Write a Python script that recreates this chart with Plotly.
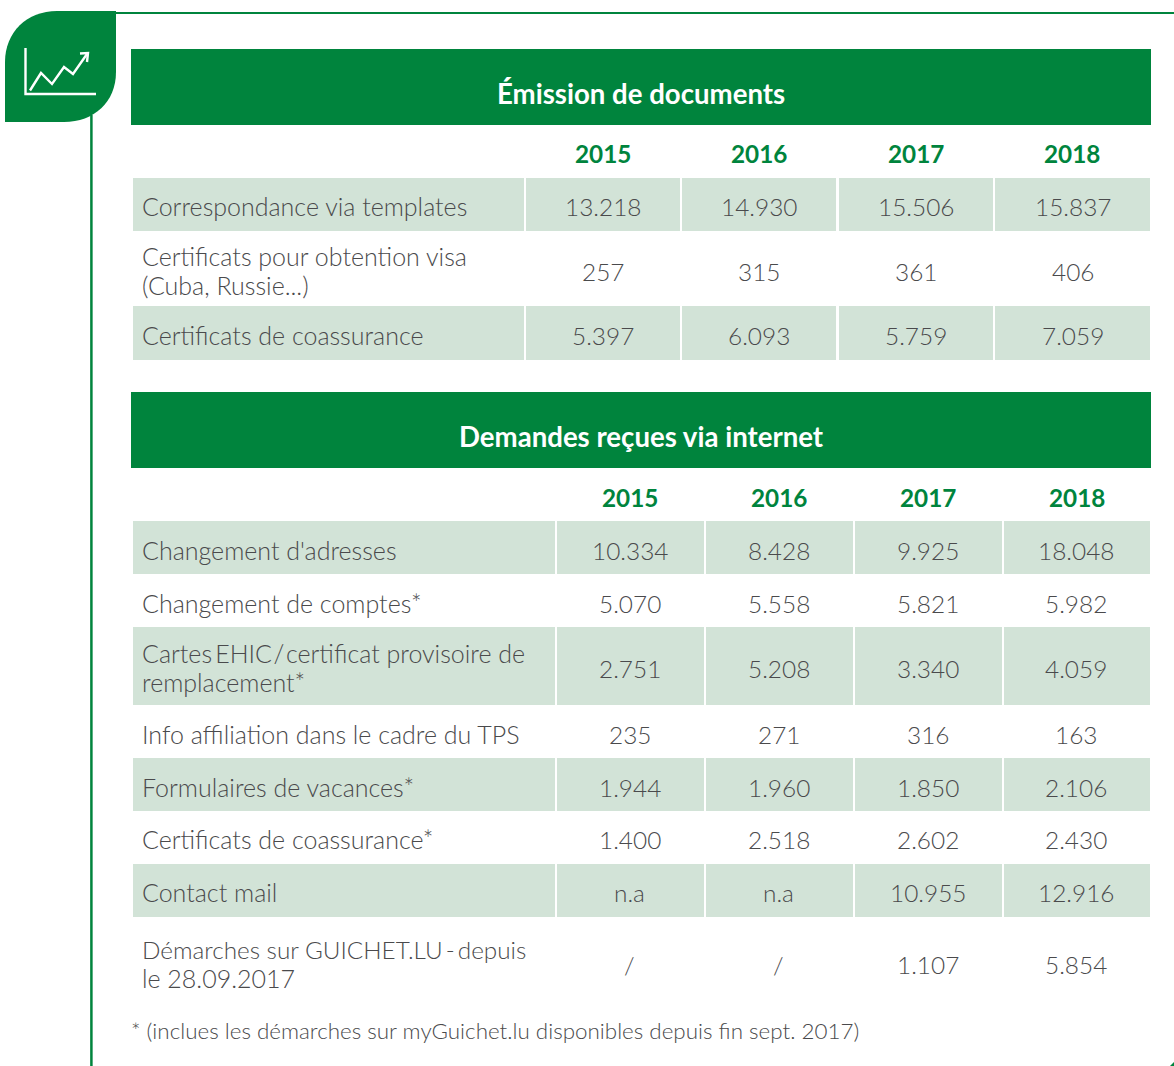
import plotly.graph_objects as go

# ---- data ----
years = ["2015", "2016", "2017", "2018"]

title_docs = "Émission de documents"
labels_docs = ["Correspondance via templates",
               "Certificats pour obtention visa<br>(Cuba, Russie...)",
               "Certificats de coassurance"]
values_docs = [["13.218", "14.930", "15.506", "15.837"],
               ["257", "315", "361", "406"],
               ["5.397", "6.093", "5.759", "7.059"]]

title_web = "Demandes reçues via internet"
labels_web = ["Changement d'adresses",
              "Changement de comptes*",
              "Cartes\u2009EHIC\u200a/\u200acertificat provisoire de<br>remplacement*",
              "Info affiliation dans le cadre du TPS",
              "Formulaires de vacances*",
              "Certificats de coassurance*",
              "Contact mail",
              "Démarches sur GUICHET.LU\u2009-\u2009depuis<br>le 28.09.2017"]
values_web = [["10.334", "8.428", "9.925", "18.048"],
              ["5.070", "5.558", "5.821", "5.982"],
              ["2.751", "5.208", "3.340", "4.059"],
              ["235", "271", "316", "163"],
              ["1.944", "1.960", "1.850", "2.106"],
              ["1.400", "2.518", "2.602", "2.430"],
              ["n.a", "n.a", "10.955", "12.916"],
              ["/", "/", "1.107", "5.854"]]

footnote = "* (inclues les démarches sur myGuichet.lu disponibles depuis fin sept. 2017)"

# ---- style ----
GREEN = "#00843d"
BAND = "#d2e3d7"
GREY = "#4a4a4c"
FONT = "Lato"
W, H = 1174, 1066
LINE_GAP = 14.5

shapes, ann = [], []


def rect(x0, y0, x1, y1, color):
    shapes.append(dict(type="rect", x0=x0, y0=y0, x1=x1, y1=y1,
                       fillcolor=color, line_width=0, layer="below"))


def text(x, y, s, size=24.0, color=GREY, anchor="center", bold=False):
    font = dict(family=FONT, size=size, color=color)
    if not bold:
        font["weight"] = 300
    ann.append(dict(x=x, y=y, text=f"<b>{s}</b>" if bold else s, showarrow=False,
                    xanchor=anchor, yanchor="middle", align="left",
                    borderpad=0, borderwidth=0, font=font))


def table(title, title_box, year_y, cols, rows, centers, labels, values, val_shift):
    x0, y0, x1, y1 = title_box
    rect(x0, y0, x1, y1, GREEN)
    text((x0 + x1) / 2, (y0 + y1) / 2 + 6, title, size=27.6, color="#ffffff", bold=True)
    col_mid = [(c0 + c1) / 2 - 0.5 for c0, c1 in cols[1:]]
    for xm, yr in zip(col_mid, years):
        text(xm, year_y, yr, size=24.3, color=GREEN, bold=True)
    for r, (lab, vals) in enumerate(zip(labels, values)):
        if rows[r][2]:
            for c0, c1 in cols:
                rect(c0, rows[r][0], c1, rows[r][1], BAND)
        mid = centers[r]
        parts = lab.split("<br>")
        if len(parts) == 2:
            first_size = 24.3 if "GUICHET" in parts[0] else 25
            text(142, mid - LINE_GAP - 1.5, parts[0], size=first_size, anchor="left")
            text(142, mid + LINE_GAP - 1.5, parts[1], size=25, anchor="left")
        else:
            text(142, mid - 1, lab, size=25, anchor="left")
        for xm, v in zip(col_mid, vals):
            text(xm + val_shift, mid - 0.5, v, size=24.4)


# frame and leaf
shapes.append(dict(type="line", x0=110, y0=13, x1=W, y1=13, line=dict(color=GREEN, width=2)))
shapes.append(dict(type="line", x0=91.4, y0=115, x1=91.4, y1=H, line=dict(color=GREEN, width=2.5)))
shapes.append(dict(type="path", path=f"M1170,{H} L{W},{H} L{W},1062 Z", fillcolor=GREEN, line_width=0))
shapes.append(dict(type="path",
                   path="M5,122 L5,62 C5,32 27,11 57,11 L116,11 L116,72 C116,102 94,122 64,122 Z",
                   fillcolor=GREEN, line_width=0))
for p, w in [("M25.5,48 L25.5,94 L96,94", 2.4), ("M30,90.5 L41,73 L52,84 L64,67 L73,74 L87,54", 2.4),
             ("M80,53.5 L88,53 L87,62", 2.4)]:
    shapes.append(dict(type="path", path=p, line=dict(color="#ffffff", width=w), fillcolor="rgba(0,0,0,0)"))

table(title_docs, (131, 49, 1151, 125), 153,
      [(133, 524), (526, 680), (682, 836), (839, 993), (995, 1150)],
      [(178, 231, True), (231, 306, False), (306, 360, True)],
      [206.5, 271.5, 335.5],
      labels_docs, values_docs, 0.5)

table(title_web, (131, 392, 1151, 468), 497,
      [(133, 555), (557, 704), (706, 853), (855, 1002), (1004, 1150)],
      [(521, 574, True), (574, 627, False), (627, 705, True), (705, 758, False),
       (758, 811, True), (811, 864, False), (864, 917, True), (917, 1013, False)],
      [550.5, 603.5, 668.5, 734.5, 787.5, 839.5, 892.5, 965],
      labels_web, values_web, -0.5)

text(131, 1030, footnote, size=22.4, anchor="left")

fig = go.Figure()
fig.update_layout(width=W, height=H, autosize=False, margin=dict(l=0, r=0, t=0, b=0),
                  paper_bgcolor="#ffffff", plot_bgcolor="#ffffff", showlegend=False,
                  shapes=shapes, annotations=ann,
                  xaxis=dict(range=[0, W], visible=False, fixedrange=True),
                  yaxis=dict(range=[H, 0], visible=False, fixedrange=True))
fig.write_html("out.html", config={"displayModeBar": False},
               post_script="document.body.style.margin='0';document.body.style.overflow='hidden';")
